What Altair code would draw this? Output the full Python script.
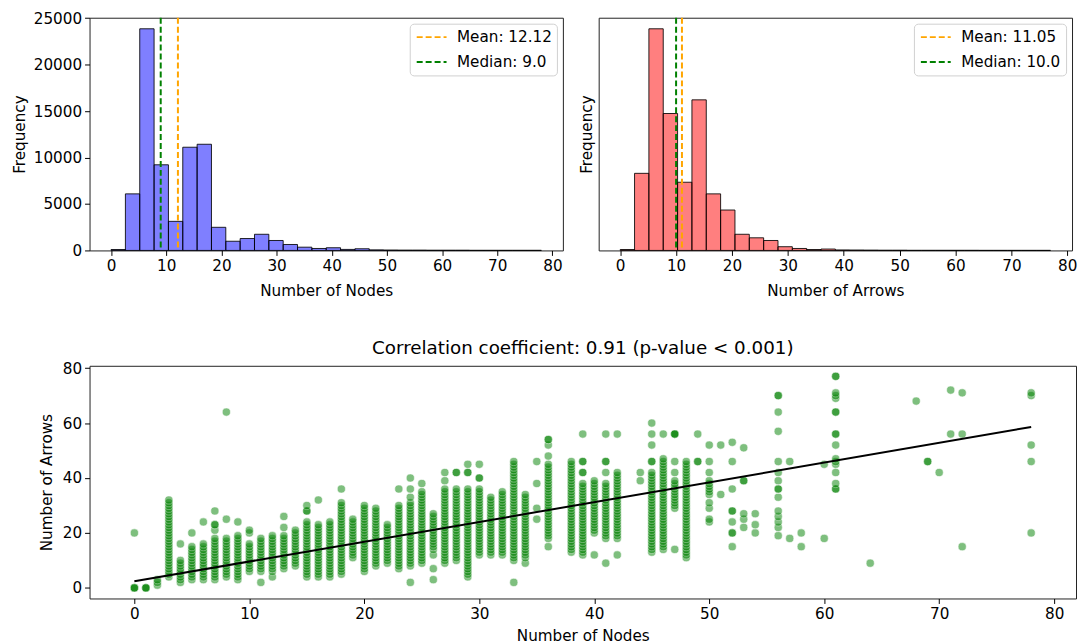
import altair as alt
import numpy as np
import pandas as pd

FONT = "DejaVu Sans"
FS = 15.3      # tick labels, axis titles, legend
FS_TITLE = 18.4

# ---------------- data ----------------
n_bins = 30
node_range = [0, 78]
arrow_range = [0, 77]
node_bin_counts = [100, 6090, 23860, 9220, 3130, 11110, 11430, 2490, 990, 1280,
                   1740, 1070, 640, 350, 210, 290, 110, 180, 60, 40,
                   30, 30, 20, 20, 20, 10, 10, 10, 10, 10]
arrow_bin_counts = [100, 8300, 23860, 14740, 7340, 16210, 6090, 4350, 1740, 1360,
                    1070, 400, 210, 100, 150, 50, 40, 30, 20, 20,
                    10, 10, 10, 10, 10, 5, 5, 5, 5, 5]
node_mean, node_median = 12.12, 9.0
arrow_mean, arrow_median = 11.05, 10.0

hist_x_ticks = [0, 10, 20, 30, 40, 50, 60, 70, 80]
freq_ticks = [0, 5000, 10000, 15000, 20000, 25000]
scatter_y_ticks = [0, 20, 40, 60, 80]

fit_nodes = [0, 78]
fit_arrows = [2.4, 58.6]
corr_title = "Correlation coefficient: 0.91 (p-value < 0.001)"

# (number of nodes, observed numbers of arrows; repeated values = stacked points)
scatter_columns = [
    (0, [0, 0, 0, 20]),
    (1, [0, 0, 0]),
    (2, [1, 2, 3]),
    (3, [4, 5, 6, 7, 8, 9, 10, 11, 12, 13, 14, 15, 16, 17, 18, 19, 20, 21, 22, 23, 24, 25, 26, 27, 28, 29, 30, 31, 32]),
    (4, [2, 3, 4, 5, 6, 7, 8, 9, 10, 16]),
    (5, [3, 4, 5, 6, 7, 8, 9, 10, 11, 12, 13, 14, 15, 20]),
    (6, [3, 4, 5, 6, 7, 8, 9, 10, 11, 12, 13, 14, 15, 16, 24]),
    (7, [3, 4, 5, 6, 7, 8, 9, 10, 11, 12, 13, 14, 15, 16, 17, 18, 21, 23, 23, 28]),
    (8, [4, 5, 6, 7, 8, 9, 10, 11, 12, 13, 14, 15, 16, 17, 18, 25, 64]),
    (9, [3, 4, 5, 6, 7, 8, 9, 10, 11, 12, 13, 14, 15, 16, 17, 18, 19, 24]),
    (10, [6, 7, 8, 9, 10, 11, 12, 13, 14, 15, 16, 20, 21]),
    (11, [2, 6, 7, 8, 9, 10, 11, 12, 13, 14, 15, 16, 17, 18]),
    (12, [4, 6, 7, 8, 9, 10, 11, 12, 13, 14, 15, 16, 17, 18, 19]),
    (13, [7, 8, 9, 10, 11, 12, 13, 14, 15, 16, 17, 18, 19, 22, 26]),
    (14, [8, 9, 10, 11, 12, 13, 14, 15, 16, 17, 18, 19, 20, 21]),
    (15, [4, 5, 6, 7, 8, 9, 10, 11, 12, 13, 14, 15, 16, 17, 18, 19, 20, 21, 22, 23, 24, 28, 28, 30]),
    (16, [4, 5, 6, 7, 8, 9, 10, 11, 12, 13, 14, 15, 16, 17, 18, 19, 20, 21, 22, 23, 32]),
    (17, [4, 5, 6, 7, 8, 9, 10, 11, 12, 13, 14, 15, 16, 17, 18, 19, 20, 21, 22, 23, 24]),
    (18, [5, 6, 7, 8, 9, 10, 11, 12, 13, 14, 15, 16, 17, 18, 19, 20, 21, 22, 23, 24, 25, 26, 27, 28, 29, 30, 31, 36]),
    (19, [11, 12, 13, 14, 15, 16, 17, 18, 19, 20, 21, 22, 23, 24, 25]),
    (20, [6, 7, 8, 9, 10, 11, 12, 13, 14, 15, 16, 17, 18, 19, 20, 21, 22, 23, 24, 25, 26, 27, 28, 29, 30]),
    (21, [8, 9, 10, 11, 12, 13, 14, 15, 16, 17, 18, 19, 20, 21, 22, 23, 24, 25, 26, 27, 28, 29]),
    (22, [9, 10, 11, 12, 13, 14, 15, 16, 17, 18, 19, 20, 21, 22, 23]),
    (23, [7, 8, 9, 10, 11, 12, 13, 14, 15, 16, 17, 18, 19, 20, 21, 22, 23, 24, 25, 26, 27, 28, 29, 30, 36]),
    (24, [2, 8, 9, 10, 11, 12, 13, 14, 15, 16, 17, 18, 19, 20, 21, 22, 23, 24, 25, 26, 27, 28, 29, 30, 31, 33, 36, 40]),
    (25, [9, 10, 11, 12, 13, 14, 15, 16, 17, 18, 19, 20, 21, 22, 23, 24, 25, 26, 27, 28, 29, 30, 31, 32, 33, 34, 35, 38]),
    (26, [3, 7, 12, 14, 15, 16, 17, 18, 19, 20, 21, 22, 23, 24, 25, 26, 27]),
    (27, [9, 10, 11, 12, 13, 14, 15, 16, 17, 18, 19, 20, 21, 22, 23, 24, 25, 26, 27, 28, 29, 30, 31, 32, 33, 34, 35, 36, 39, 42]),
    (28, [10, 11, 12, 13, 14, 15, 16, 17, 18, 19, 20, 21, 22, 23, 24, 25, 26, 27, 28, 29, 30, 31, 32, 33, 34, 35, 36, 42, 42]),
    (29, [4, 5, 6, 7, 8, 9, 10, 11, 12, 13, 14, 15, 16, 17, 18, 19, 20, 21, 22, 23, 24, 25, 26, 27, 28, 29, 30, 31, 32, 33, 34, 35, 36, 42, 42, 45]),
    (30, [12, 13, 14, 15, 16, 17, 18, 19, 20, 21, 22, 23, 24, 25, 26, 27, 28, 29, 30, 31, 32, 33, 34, 35, 36, 40, 40, 45]),
    (31, [12, 13, 14, 15, 16, 17, 18, 19, 20, 21, 22, 23, 24, 25, 26, 27, 28, 29, 30, 31, 32, 33]),
    (32, [12, 13, 14, 15, 16, 17, 18, 19, 20, 21, 22, 23, 24, 25, 26, 27, 28, 29, 30, 31, 32, 33, 34, 35]),
    (33, [2, 10, 11, 12, 13, 14, 15, 16, 17, 18, 19, 20, 21, 22, 23, 24, 25, 26, 27, 28, 29, 30, 31, 32, 33, 34, 35, 36, 37, 38, 39, 40, 41, 42, 43, 44, 45, 46]),
    (34, [9, 11, 12, 13, 14, 15, 16, 17, 18, 19, 20, 21, 22, 23, 24, 25, 26, 27, 28, 29, 30, 31, 32, 33, 34]),
    (35, [25, 29, 38, 46]),
    (36, [15, 18, 19, 20, 21, 22, 23, 24, 25, 26, 27, 28, 29, 30, 31, 32, 33, 34, 35, 36, 37, 38, 39, 40, 41, 42, 43, 44, 45, 48, 52, 54, 54]),
    (38, [13, 14, 15, 16, 17, 18, 19, 20, 21, 22, 23, 24, 25, 26, 27, 28, 29, 30, 31, 32, 33, 34, 35, 36, 37, 38, 39, 40, 41, 42, 43, 44, 45, 46]),
    (39, [12, 13, 14, 15, 16, 17, 18, 19, 20, 21, 22, 23, 24, 25, 26, 27, 28, 29, 30, 31, 32, 33, 34, 35, 36, 37, 38, 42, 42, 46, 46, 56]),
    (40, [12, 20, 21, 22, 23, 24, 25, 26, 27, 28, 29, 30, 31, 32, 33, 34, 35, 36, 37, 38, 39]),
    (41, [9, 18, 19, 20, 21, 22, 23, 24, 25, 26, 27, 28, 29, 30, 31, 32, 33, 34, 35, 36, 37, 38, 42, 46, 46, 56]),
    (42, [12, 18, 19, 20, 21, 22, 23, 24, 25, 26, 27, 28, 29, 30, 31, 32, 33, 34, 35, 36, 37, 38, 39, 40, 41, 42, 56]),
    (44, [39, 42]),
    (45, [13, 14, 15, 16, 17, 18, 19, 20, 21, 22, 23, 24, 25, 26, 27, 28, 29, 30, 31, 32, 33, 34, 35, 36, 37, 38, 39, 40, 41, 42, 46, 46, 52, 56, 60]),
    (46, [14, 15, 16, 17, 18, 19, 20, 21, 22, 23, 24, 25, 26, 27, 28, 29, 30, 31, 32, 33, 34, 35, 36, 37, 38, 39, 40, 41, 42, 43, 44, 45, 46, 47, 56]),
    (47, [14, 29, 30, 31, 32, 33, 34, 35, 36, 37, 38, 39, 42, 46, 56, 56, 56]),
    (48, [11, 12, 13, 14, 15, 16, 17, 18, 19, 20, 21, 22, 23, 24, 25, 26, 27, 28, 29, 30, 31, 32, 33, 34, 35, 36, 37, 38, 39, 40, 41, 42, 43, 44, 45, 46]),
    (49, [46, 46, 56]),
    (50, [24, 25, 29, 31, 34, 35, 36, 37, 38, 39, 42, 46, 52]),
    (51, [34, 52]),
    (52, [15, 20, 20, 24, 28, 28, 36, 46, 53]),
    (53, [22, 25, 27, 39, 39, 51]),
    (54, [20, 23, 27]),
    (56, [19, 22, 24, 26, 28, 33, 36, 36, 39, 42, 46, 57, 64, 70, 70]),
    (57, [18, 46]),
    (58, [15, 20]),
    (60, [18, 45]),
    (61, [36, 36, 38, 42, 45, 46, 47, 52, 56, 56, 64, 64, 69, 70, 71, 77, 77]),
    (64, [9]),
    (68, [68]),
    (69, [46, 46]),
    (70, [42]),
    (71, [56, 72]),
    (72, [15, 56, 71]),
    (78, [20, 46, 52, 70, 71]),
]

# ---------------- helpers ----------------
axis_common = dict(
    labelFont=FONT, labelFontSize=FS, labelColor="black",
    titleFont=FONT, titleFontSize=FS, titleFontWeight="normal", titleColor="black",
    tickColor="black", tickSize=5, tickWidth=1, domain=False, grid=False,
    labelFlush=False, labelOverlap=False, format="d",
)

W_HIST, H = 476, 234
W_SCAT = 992


def histogram(counts, rng, fill, xtitle, mean, median, show_y_labels):
    edges = np.linspace(rng[0], rng[1], n_bins + 1)
    df = pd.DataFrame({"start": edges[:-1], "end": edges[1:], "count": counts,
                       "base": [0] * n_bins})
    pad = (rng[1] - rng[0]) * 0.05
    xscale = alt.Scale(domain=[rng[0] - pad, rng[1] + pad], nice=False, zero=False)
    yscale = alt.Scale(domain=[0, 25050], nice=False)
    if show_y_labels:
        yaxis = alt.Axis(values=freq_ticks, title="Frequency", labelPadding=3, titlePadding=6, **axis_common)
    else:
        yaxis = alt.Axis(values=freq_ticks, title="Frequency", labels=False, ticks=False,
                         titlePadding=4, **axis_common)
    bars = alt.Chart(df).mark_bar(
        fill=fill, fillOpacity=0.5, stroke="black", strokeOpacity=0.85, strokeWidth=1
    ).encode(
        x=alt.X("start:Q", scale=xscale,
                axis=alt.Axis(values=hist_x_ticks, title=xtitle, labelPadding=3, titlePadding=10, **axis_common)),
        x2="end:Q",
        y=alt.Y("count:Q", scale=yscale, axis=yaxis),
        y2="base:Q",
    )
    labels = [f"Mean: {mean:.2f}", f"Median: {median}"]
    lines_df = pd.DataFrame({"value": [mean, median], "label": labels})
    rules = alt.Chart(lines_df).mark_rule(strokeDash=[6, 3], strokeWidth=2).encode(
        x=alt.X("value:Q", scale=xscale),
        color=alt.Color(
            "label:N",
            scale=alt.Scale(domain=labels, range=["orange", "green"]),
            legend=alt.Legend(
                title=None, orient="top-right", offset=6,
                symbolType="M-2,0L2,0", symbolSize=225, symbolOffset=8.5,
                symbolDash=[6, 3], symbolStrokeWidth=2,
                labelFont=FONT, labelFontSize=FS, labelColor="black", labelOffset=17,
                strokeColor="#d0d0d0", fillColor="white", padding=5, cornerRadius=4,
                rowPadding=8, symbolOpacity=1,
            ),
        ),
    )
    return alt.layer(bars, rules).resolve_scale(x="shared").properties(width=W_HIST, height=H)


left = histogram(node_bin_counts, node_range, "blue", "Number of Nodes", node_mean, node_median, True)
right = histogram(arrow_bin_counts, arrow_range, "red", "Number of Arrows", arrow_mean, arrow_median, False)

top = alt.hconcat(left, right, spacing=15).resolve_scale(
    color="independent", x="independent", y="independent"
).resolve_legend(color="independent")

# scatter
nodes = [n for n, ys in scatter_columns for _ in ys]
arrows = [y for _, ys in scatter_columns for y in ys]
scatter_df = pd.DataFrame({"nodes": nodes, "arrows": arrows})
fit_df = pd.DataFrame({"nodes": fit_nodes, "arrows": fit_arrows})

sx = alt.Scale(domain=[-3.9, 81.9], nice=False, zero=False)
sy = alt.Scale(domain=[-3.85, 80.85], nice=False, zero=False)

pts = alt.Chart(scatter_df).mark_circle(
    size=68, fill="green", fillOpacity=1, stroke="white", strokeWidth=0.6, strokeOpacity=1, opacity=0.5
).encode(
    x=alt.X("nodes:Q", scale=sx,
            axis=alt.Axis(values=hist_x_ticks, title="Number of Nodes", labelPadding=3, titlePadding=7, **axis_common)),
    y=alt.Y("arrows:Q", scale=sy,
            axis=alt.Axis(values=scatter_y_ticks, title="Number of Arrows", labelPadding=3, titlePadding=8, **axis_common)),
)
fit = alt.Chart(fit_df).mark_line(color="black", strokeWidth=2).encode(
    x=alt.X("nodes:Q", scale=sx),
    y=alt.Y("arrows:Q", scale=sy),
)
bottom = alt.layer(pts, fit).properties(
    width=W_SCAT, height=H,
    title=alt.TitleParams(corr_title, font=FONT, fontSize=FS_TITLE, fontWeight="normal", color="black", offset=4),
)

chart = alt.vconcat(top, bottom, spacing=38).properties(
    padding={"left": 3, "top": 0, "right": 0, "bottom": 0},
    background="white",
).configure_view(stroke="#222222", strokeWidth=1)

chart.save("out.html", embed_options={"renderer": "svg", "actions": False})
